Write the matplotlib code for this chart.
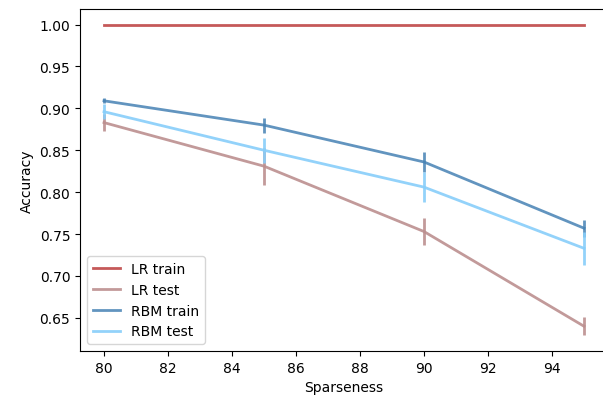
import numpy as np
import matplotlib
matplotlib.use("Agg")
import matplotlib.pyplot as plt

sparseness = [80, 85, 90, 95]

lr_train = [1.0, 1.0, 1.0, 1.0]
lr_train_err = [0.0, 0.0, 0.0, 0.0]
lr_test = [0.883, 0.831, 0.753, 0.640]
lr_test_err = [0.010, 0.022, 0.016, 0.011]
rbm_train = [0.909, 0.880, 0.836, 0.757]
rbm_train_err = [0.003, 0.009, 0.012, 0.010]
rbm_test = [0.896, 0.850, 0.806, 0.733]
rbm_test_err = [0.009, 0.015, 0.018, 0.020]

fig = plt.figure(figsize=(6.03, 4.02), dpi=100)
# the original picture is cropped on the right, so the axes run past the edge
ax = fig.add_axes([80 / 603, 50 / 402, 528 / 603, 342 / 402])

series = [
    (lr_train, lr_train_err, "firebrick", 0.75, "LR train"),
    (lr_test, lr_test_err, "rosybrown", 0.9, "LR test"),
    (rbm_train, rbm_train_err, "steelblue", 0.85, "RBM train"),
    (rbm_test, rbm_test_err, "lightskyblue", 0.9, "RBM test"),
]
handles, labels = [], []
for vals, err, col, a, lab in series:
    c = ax.errorbar(sparseness, vals, yerr=err, color=col, alpha=a, lw=2)
    handles.append(c[0])
    labels.append(lab)

ax.spines["right"].set_visible(False)
ax.set_xticks(np.arange(80, 96, 2))
ax.set_xlabel("Sparseness")
ax.set_ylabel("Accuracy")
ax.legend(handles, labels, loc="lower left")

fig.savefig("out.png", dpi=100)
